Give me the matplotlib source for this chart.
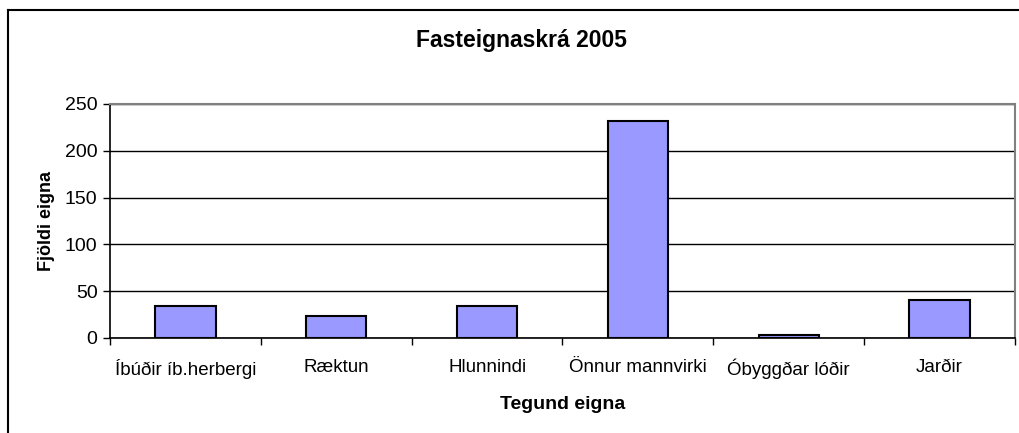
import matplotlib
matplotlib.use("Agg")
import matplotlib.pyplot as plt
from matplotlib.lines import Line2D

categories = ["Íbúðir íb.herbergi", "Ræktun", "Hlunnindi", "Önnur mannvirki",
              "Óbyggðar lóðir", "Jarðir"]
values = [34, 24, 34, 232, 3, 41]
yticks = [0, 50, 100, 150, 200, 250]

plt.rcParams["font.family"] = ["Liberation Sans", "DejaVu Sans"]

W, H = 1019, 433
fig = plt.figure(figsize=(W / 100, H / 100), dpi=100)
ax = fig.add_axes([110 / W, 1 - 338 / H, 905 / W, 234 / H])

x = list(range(len(categories)))
ax.bar(x, values, width=0.4, color="#9999ff", edgecolor="black", linewidth=1.5, zorder=3)

ax.set_xlim(-0.5, len(categories) - 0.5)
ax.set_ylim(0, 250)
ax.set_yticks(yticks)
ax.set_xticks(x)
ax.set_xticklabels(categories, fontsize=13.5)
ax.tick_params(axis="x", length=0, pad=15)
ax.set_xticks([i - 0.5 for i in range(len(categories) + 1)], minor=True)
ax.tick_params(axis="x", which="minor", length=5, direction="out", width=1)
ax.tick_params(axis="y", length=5, width=1, labelsize=14, direction="out", pad=4)
ax.grid(axis="y", color="black", linewidth=1, zorder=0)

for side in ("left", "bottom"):
    ax.spines[side].set_color("black")
    ax.spines[side].set_linewidth(1.2)
for side in ("top", "right"):
    ax.spines[side].set_color("#808080")
    ax.spines[side].set_linewidth(1.5)

ax.set_xlabel("Tegund eigna", fontsize=14, fontweight="bold", labelpad=12)
ax.set_ylabel("Fjöldi eigna", fontsize=13, fontweight="bold", labelpad=7)
fig.text(521 / W, 1 - 40 / H, "Fasteignaskrá 2005",
         fontsize=16.5, fontweight="bold", ha="center", va="center")

# outer chart border
fig.add_artist(Line2D([8 / W, 8 / W], [0, 1 - 10 / H], color="black", linewidth=1.5,
                      transform=fig.transFigure))
fig.add_artist(Line2D([8 / W, 1], [1 - 10 / H, 1 - 10 / H], color="black", linewidth=1.5,
                      transform=fig.transFigure))

fig.savefig("out.png", dpi=100)
